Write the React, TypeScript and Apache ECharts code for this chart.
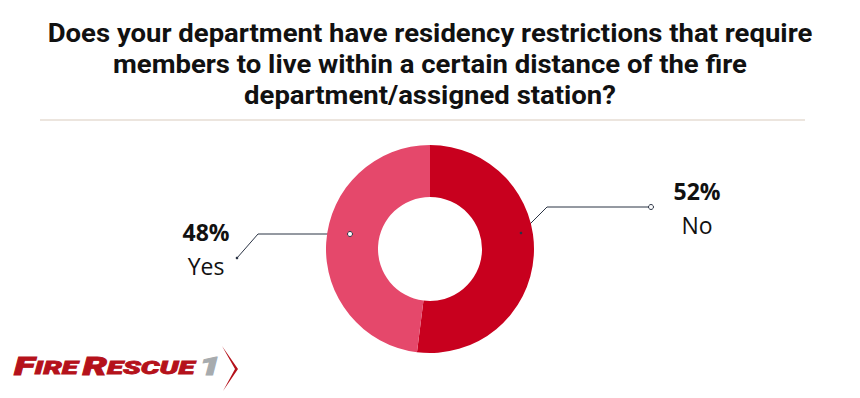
import React, { useEffect, useRef } from "react";
import * as echarts from "echarts";

const titleText =
  "Does your department have residency restrictions that require\nmembers to live within a certain distance of the fire\ndepartment/assigned station?";
const categories = ["No", "Yes"];
const values = [52, 48];
const colors = ["#C8001E", "#E5486B"];

export default function App() {
  const ref = useRef<HTMLDivElement>(null);
  useEffect(() => {
    document.body.style.margin = "0";
    const chart = echarts.init(ref.current!, null, { renderer: "svg" });
    const lineColor = "#2B3445";
    const labelPos = [
      { x: 697, y: 208, pts: [[521, 233], [547, 207], [651, 207]] },
      { x: 206, y: 249, pts: [[350, 234], [258, 234], [237, 258]] },
    ];
    const logoRed = "#B5121B";
    const logoGray = "#A7ABAE";
    const logoFont = { fontFamily: "Roboto", fontStyle: "italic", fontWeight: 900 };
    chart.setOption({
      animation: false,
      backgroundColor: "#ffffff",
      graphic: [
        {
          type: "text",
          x: 430,
          y: 64,
          scaleX: 1.1,
          style: {
            text: titleText,
            align: "center",
            verticalAlign: "middle",
            fontFamily: "Roboto",
            fontWeight: "bold",
            fontSize: 25,
            lineHeight: 31,
            fill: "#111111",
          },
        },
        {
          type: "line",
          shape: { x1: 40, y1: 120, x2: 805, y2: 120 },
          style: { stroke: "#E6DDD3", lineWidth: 1.5 },
          silent: true,
        },
        {
          type: "circle",
          shape: { cx: labelPos[0].pts[2][0], cy: labelPos[0].pts[2][1], r: 2.5 },
          style: { fill: "#fff", stroke: lineColor, lineWidth: 1 },
          z: 10,
        },
        {
          type: "circle",
          shape: { cx: labelPos[1].pts[0][0], cy: labelPos[1].pts[0][1], r: 2.5 },
          style: { fill: "#fff", stroke: lineColor, lineWidth: 1 },
          z: 10,
        },
        {
          type: "circle",
          shape: { cx: labelPos[0].pts[0][0], cy: labelPos[0].pts[0][1], r: 1.3 },
          style: { fill: lineColor },
          z: 10,
        },
        {
          type: "circle",
          shape: { cx: labelPos[1].pts[2][0], cy: labelPos[1].pts[2][1], r: 1.3 },
          style: { fill: lineColor },
          z: 10,
        },
        {
          type: "text",
          x: 14,
          y: 367,
          scaleX: 1.55,
          style: {
            text: "{b|F}{s|IRE}{sp| }{b|R}{s|ESCUE}{sp| }{g|1}",
            rich: {
              b: { ...logoFont, fontSize: 25, fill: logoRed, stroke: logoRed, lineWidth: 0.8 },
              s: { ...logoFont, fontSize: 19, fill: logoRed, stroke: logoRed, lineWidth: 0.8 },
              sp: { ...logoFont, fontSize: 12, fill: logoRed },
              g: { ...logoFont, fontSize: 25, fill: logoGray, stroke: logoGray, lineWidth: 0.8 },
            },
            verticalAlign: "middle",
          },
        },
        {
          type: "polygon",
          shape: { points: [[222, 346], [238, 369], [223, 391], [235, 369]] },
          style: { fill: logoRed },
        },
      ],
      series: [
        {
          type: "pie",
          center: [430, 249],
          radius: [52, 104],
          startAngle: 90,
          clockwise: true,
          avoidLabelOverlap: false,
          data: categories.map((c, i) => ({
            name: c,
            value: values[i],
            itemStyle: { color: colors[i] },
          })),
          label: {
            show: true,
            position: "outside",
            formatter: "{p|{d}%}\n{n|{b}}",
            color: "#111",
            rich: {
              p: { fontFamily: "Open Sans", fontWeight: "bold", fontSize: 23, lineHeight: 34, color: "#111", align: "center" },
              n: { fontFamily: "Open Sans", fontSize: 23, lineHeight: 34, color: "#111", align: "center" },
            },
          },
          labelLine: {
            show: true,
            lineStyle: { color: lineColor, width: 1 },
          },
          labelLayout: (params: any) => {
            const p = labelPos[params.dataIndex];
            return {
              x: p.x,
              y: p.y,
              align: "center",
              verticalAlign: "middle",
              labelLinePoints: p.pts,
            };
          },
          emphasis: { disabled: true },
        },
      ],
    });
    return () => chart.dispose();
  }, []);
  return <div ref={ref} style={{ width: 860, height: 398 }} />;
}
